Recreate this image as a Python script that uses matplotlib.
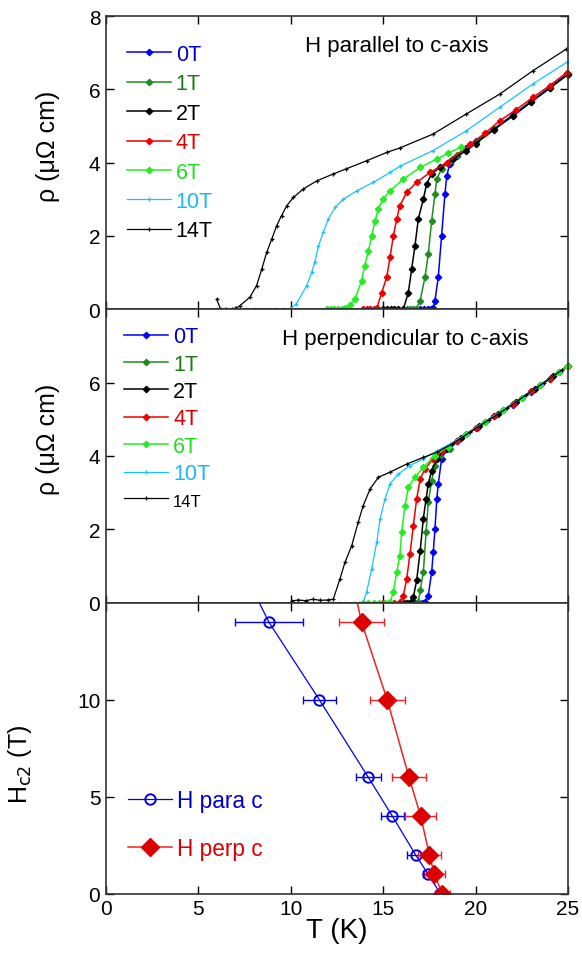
import matplotlib
matplotlib.use("Agg")
import matplotlib.pyplot as plt

plt.rcParams['font.family'] = ['Liberation Sans', 'DejaVu Sans']

FIELDS = ["0T", "1T", "2T", "4T", "6T", "10T", "14T"]
COLORS = ["#0000ff", "#1e8c1e", "#000000", "#ee0000", "#22ee22", "#19c3ff", "#000000"]
TEXT_COLORS = ["#0000cc", "#1a7a1a", "#000000", "#dd0000", "#22dd22", "#19b8f5", "#000000"]

# ---- H parallel to c-axis ----
T_par_0T = [17.0, 17.2, 17.4, 17.6, 17.7, 17.8, 17.98, 18.16, 18.34, 18.44, 18.6, 18.98, 19.5, 20.0, 21.0, 22.0, 23.0, 24.0, 25.0]
rho_par_0T = [0, 0, 0, 0, 0.02, 0.23, 0.87, 2.0, 3.14, 3.64, 3.96, 4.19, 4.4, 4.58, 4.93, 5.3, 5.68, 6.05, 6.43]
T_par_1T = [16.27, 16.45, 16.63, 16.8, 17.0, 17.26, 17.44, 17.62, 17.8, 17.9, 18.16, 18.6, 19.0, 20.0, 21.0, 22.0, 23.0, 24.0, 25.0]
rho_par_1T = [0, 0, 0, 0, 0.23, 0.87, 1.5, 2.41, 3.14, 3.55, 3.83, 4.05, 4.2, 4.56, 4.92, 5.28, 5.66, 6.03, 6.4]
T_par_2T = [15.0, 15.2, 15.4, 15.6, 15.8, 16.09, 16.36, 16.54, 16.72, 16.9, 17.17, 17.35, 17.62, 18.07, 18.8, 19.5, 20.0, 21.0, 22.0, 23.0, 24.0, 25.0]
rho_par_2T = [0, 0, 0, 0, 0, 0, 0.45, 1.09, 1.73, 2.46, 3.0, 3.42, 3.69, 3.87, 4.1, 4.33, 4.52, 4.9, 5.27, 5.65, 6.03, 6.42]
T_par_4T = [13.92, 14.1, 14.3, 14.5, 14.65, 14.92, 15.19, 15.37, 15.55, 15.73, 15.9, 16.27, 16.81, 17.53, 18.44, 19.7, 20.5, 21.3, 22.2, 23.1, 24.0, 24.93]
rho_par_4T = [0, 0, 0, 0, 0.02, 0.45, 0.87, 1.41, 2.0, 2.46, 2.82, 3.19, 3.46, 3.73, 4.0, 4.5, 4.8, 5.14, 5.45, 5.78, 6.1, 6.46]
T_par_6T = [11.95, 12.15, 12.35, 12.55, 12.75, 12.95, 13.2, 13.47, 13.83, 14.0, 14.2, 14.38, 14.56, 14.73, 15.0, 15.37, 16.09, 17.0, 17.9, 18.5, 19.2]
rho_par_6T = [0, 0, 0, 0, 0, 0.02, 0.1, 0.27, 0.77, 1.18, 1.59, 2.0, 2.41, 2.73, 3.0, 3.23, 3.55, 3.87, 4.1, 4.25, 4.42]
T_par_10T = [6.0, 6.4, 6.8, 7.2, 7.6, 8.0, 8.4, 8.8, 9.2, 9.6, 9.96, 10.3, 10.86, 11.13, 11.3, 11.5, 11.76, 12.03, 12.4, 12.84, 13.57, 14.46, 15.37, 15.9, 17.7, 19.5, 21.3, 23.1, 24.93]
rho_par_10T = [0, 0, 0, 0, 0, 0, 0, 0, 0, 0, 0, 0.14, 0.64, 1.0, 1.28, 1.73, 2.1, 2.46, 2.78, 3.0, 3.23, 3.46, 3.73, 3.9, 4.33, 4.87, 5.51, 6.15, 6.74]
T_par_14T = [5.99, 6.2, 6.5, 6.8, 7.0, 7.25, 7.8, 8.15, 8.43, 8.7, 8.97, 9.24, 9.5, 9.78, 10.14, 10.68, 11.4, 12.3, 13.0, 14.1, 15.2, 15.9, 17.7, 19.5, 21.3, 23.1, 24.9]
rho_par_14T = [0.27, 0, 0, 0, 0.02, 0.09, 0.33, 0.64, 1.09, 1.55, 1.91, 2.28, 2.55, 2.82, 3.05, 3.28, 3.5, 3.69, 3.83, 4.05, 4.28, 4.4, 4.78, 5.33, 5.87, 6.51, 7.1]

# ---- H perpendicular to c-axis ----
T_perp_0T = [16.72, 16.9, 17.1, 17.26, 17.44, 17.62, 17.71, 17.8, 17.9, 17.98, 18.16, 18.44, 19.0, 20.06, 21.0, 22.0, 23.0, 24.0, 25.0]
rho_perp_0T = [0, 0, 0, 0.02, 0.2, 0.83, 1.38, 2.01, 2.83, 3.24, 3.92, 4.19, 4.4, 4.77, 5.08, 5.4, 5.75, 6.1, 6.46]
T_perp_1T = [16.27, 16.45, 16.63, 16.9, 17.0, 17.17, 17.32, 17.44, 17.62, 17.8, 18.07, 18.6, 19.5, 20.5, 21.5, 22.5, 23.5, 24.5, 25.0]
rho_perp_1T = [0, 0, 0, 0.02, 0.34, 0.83, 1.92, 2.74, 3.33, 3.74, 4.01, 4.2, 4.6, 4.93, 5.25, 5.58, 5.92, 6.28, 6.45]
T_perp_2T = [15.9, 16.1, 16.3, 16.5, 16.63, 16.81, 17.0, 17.17, 17.32, 17.44, 17.62, 17.9, 18.3, 19.2, 20.2, 21.2, 22.2, 23.2, 24.2, 25.0]
rho_perp_2T = [0, 0, 0, 0.02, 0.15, 0.61, 1.42, 2.29, 2.83, 3.24, 3.6, 3.92, 4.15, 4.48, 4.82, 5.15, 5.48, 5.82, 6.17, 6.45]
T_perp_4T = [15.0, 15.3, 15.6, 15.9, 16.09, 16.27, 16.45, 16.63, 16.81, 17.0, 17.26, 17.71, 18.2, 19.0, 20.0, 21.0, 22.0, 23.0, 24.0, 25.0]
rho_perp_4T = [0, 0, 0, 0.02, 0.2, 0.65, 1.33, 2.1, 2.83, 3.37, 3.65, 3.92, 4.14, 4.42, 4.76, 5.08, 5.42, 5.76, 6.1, 6.46]
T_perp_6T = [13.9, 14.2, 14.5, 14.8, 15.1, 15.37, 15.55, 15.73, 15.9, 16.0, 16.18, 16.36, 16.72, 17.17, 17.8, 18.5, 19.5, 20.5, 21.5, 22.5, 23.5, 24.5, 25.0]
rho_perp_6T = [0, 0, 0, 0, 0, 0.02, 0.29, 0.83, 1.29, 1.92, 2.65, 3.15, 3.42, 3.69, 4.01, 4.25, 4.6, 4.93, 5.25, 5.58, 5.92, 6.28, 6.45]
T_perp_10T = [12.2, 12.6, 13.0, 13.4, 13.7, 13.92, 14.1, 14.38, 14.65, 14.83, 15.1, 15.37, 15.82, 16.45, 17.17, 17.9, 18.6, 19.6, 20.6, 21.6, 22.6, 23.6, 24.6]
rho_perp_10T = [0, 0, 0, 0, 0, 0.02, 0.29, 0.93, 1.65, 2.29, 2.83, 3.24, 3.51, 3.74, 3.92, 4.14, 4.32, 4.63, 4.96, 5.28, 5.62, 5.96, 6.32]
T_perp_14T = [10.05, 10.4, 10.8, 11.2, 11.6, 12.0, 12.3, 12.66, 12.93, 13.3, 13.65, 13.92, 14.29, 14.74, 15.37, 16.27, 17.17, 17.9, 18.7, 19.7, 20.7, 21.7, 22.7, 23.7, 24.7]
rho_perp_14T = [0.05, 0.08, 0.06, 0.1, 0.07, 0.08, 0.1, 0.65, 1.1, 1.56, 2.2, 2.65, 3.1, 3.42, 3.56, 3.78, 3.96, 4.1, 4.32, 4.65, 4.98, 5.3, 5.65, 6.0, 6.35]

# ---- Hc2(T) ----  (first point lies above the plotted range, line runs off the top)
Hc2_para = [16, 14, 10, 6, 4, 2, 1, 0]
Tc_para = [7.78, 8.82, 11.55, 14.2, 15.5, 16.76, 17.44, 18.1]
Tc_para_err = [0, 1.85, 0.88, 0.69, 0.63, 0.49, 0.3, 0.2]
Hc2_perp = [16, 14, 10, 6, 4, 2, 1, 0]
Tc_perp = [13.37, 13.83, 15.22, 16.4, 17.03, 17.5, 17.77, 18.2]
Tc_perp_err = [0, 1.2, 0.95, 0.9, 0.83, 0.63, 0.56, 0.4]

par_data = [(T_par_0T, rho_par_0T), (T_par_1T, rho_par_1T), (T_par_2T, rho_par_2T),
            (T_par_4T, rho_par_4T), (T_par_6T, rho_par_6T), (T_par_10T, rho_par_10T),
            (T_par_14T, rho_par_14T)]
perp_data = [(T_perp_0T, rho_perp_0T), (T_perp_1T, rho_perp_1T), (T_perp_2T, rho_perp_2T),
             (T_perp_4T, rho_perp_4T), (T_perp_6T, rho_perp_6T), (T_perp_10T, rho_perp_10T),
             (T_perp_14T, rho_perp_14T)]

fig = plt.figure(figsize=(5.82, 9.54), dpi=100)
left, width = 0.182, 0.794
ax1 = fig.add_axes([left, 0.675, width, 0.307])
ax2 = fig.add_axes([left, 0.367, width, 0.308])
ax3 = fig.add_axes([left, 0.062, width, 0.305])


def style(ax):
    ax.tick_params(direction="in", length=6, width=1, top=True, right=True,
                   labelsize=15, pad=4)
    for s in ax.spines.values():
        s.set_linewidth(1.2)
        s.set_color("#333333")
    ax.set_xlim(0, 25)
    ax.set_xticks([0, 5, 10, 15, 20, 25])


def rho_panel(ax, data, title, title_x, yticks, leg_anchor, spacing, small_last=False):
    for i, (T, r) in enumerate(data):
        if i < 5:
            ax.plot(T, r, color=COLORS[i], lw=1.1, marker="D", ms=3.2, label=FIELDS[i], clip_on=False)
        else:
            ax.plot(T, r, color=COLORS[i], lw=0.9, marker="+", ms=3.5, mew=0.9, label=FIELDS[i], clip_on=False)
    style(ax)
    ax.set_ylim(0, 8)
    ax.set_yticks(yticks)
    ax.tick_params(labelbottom=False)
    ax.set_ylabel("ρ (μΩ cm)", fontsize=18)
    ax.yaxis.set_label_coords(-0.1, 0.56)
    ax.text(title_x, 0.9, title, transform=ax.transAxes, fontsize=16, va="center")
    leg = ax.legend(loc="upper left", bbox_to_anchor=leg_anchor, frameon=False,
                    fontsize=15.5, handlelength=2.05, handletextpad=0.23,
                    labelspacing=spacing, borderaxespad=0.2)
    for i, t in enumerate(leg.get_texts()):
        t.set_color(TEXT_COLORS[i])
        if small_last and i == len(FIELDS) - 1:
            t.set_fontsize(12)


rho_panel(ax1, par_data, "H parallel to c-axis", 0.43, [0, 2, 4, 6, 8], (0.017, 0.949), 0.39)
rho_panel(ax2, perp_data, "H perpendicular to c-axis", 0.38, [0, 2, 4, 6], (0.011, 0.986), 0.3,
          small_last=True)

# bottom panel
ax3.errorbar(Tc_para, Hc2_para, xerr=Tc_para_err, fmt="none", ecolor="#0000ee",
             elinewidth=1, capsize=3, capthick=1)
ax3.errorbar(Tc_perp, Hc2_perp, xerr=Tc_perp_err, fmt="none", ecolor="#ee2222",
             elinewidth=1, capsize=3, capthick=1)
ax3.plot(Tc_para, Hc2_para, color="#0000ee", lw=0.9, marker="o", ms=7.5, mfc="none",
         mew=1.4, label="H para c")
ax3.plot(Tc_perp, Hc2_perp, color="#ee2222", lw=1.1, marker="D", ms=9.5,
         mfc="#dd0000", mec="#dd0000", label="H perp c")
style(ax3)
ax3.set_ylim(0, 15)
ax3.set_yticks([0, 5, 10])
ax3.set_xlabel("T (K)", fontsize=20, labelpad=-1)
ax3.set_ylabel(r"H$_{\rm c2}$ (T)", fontsize=18)
ax3.yaxis.set_label_coords(-0.155, 0.45)
leg3 = ax3.legend(loc="lower left", bbox_to_anchor=(0.004, 0.048), frameon=False,
                  fontsize=16.3, handlelength=1.95, handletextpad=0.22, labelspacing=1.08)
for t, c in zip(leg3.get_texts(), ["#0000cc", "#dd0000"]):
    t.set_color(c)

fig.savefig("out.png", dpi=100)
